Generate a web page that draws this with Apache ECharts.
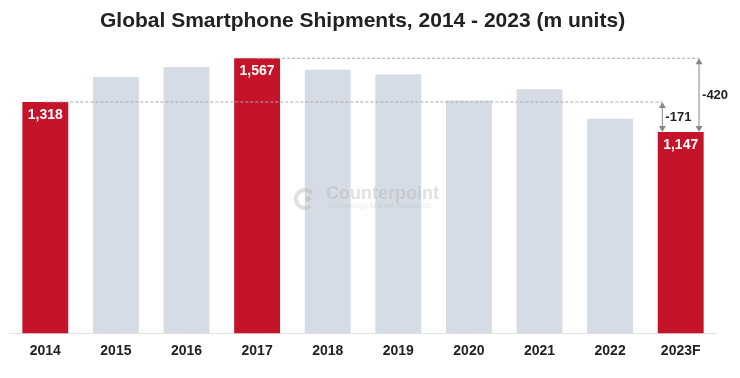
<!DOCTYPE html>
<html><head><meta charset="utf-8">
<script src="https://cdn.jsdelivr.net/npm/echarts@6/dist/echarts.min.js"></script>
<style>html,body{margin:0;padding:0;background:#fff}#c{width:740px;height:378px}</style>
</head><body><div id="c"></div>
<script>
const categories = ['2014','2015','2016','2017','2018','2019','2020','2021','2022','2023F'];
const shipments = [1318, 1460, 1517, 1567, 1502, 1476, 1327, 1390, 1223, 1147];
const highlighted = ['2014','2017','2023F'];
const annotations = [
  {from: '2014', ref: 1318, label: '-171', side: -1},
  {from: '2017', ref: 1567, label: '-420', side: 1}
];
const target = {cat: '2023F', value: 1147};

const RED = '#c5132a', GREY = '#d6dce5';
const FONT = "'Liberation Sans', Arial, sans-serif";
const chart = echarts.init(document.getElementById('c'));
chart.setOption({
  animation: false,
  title: {text: 'Global Smartphone Shipments, 2014 - 2023 (m units)', left: 95, top: 6,
    textStyle: {fontFamily: FONT, fontSize: 21, fontWeight: 'bold', color: '#222'}},
  grid: {left: 10, right: 24, top: 17.4, bottom: 44.8},
  xAxis: {type: 'category', data: categories,
    axisLine: {lineStyle: {color: '#e2e2e2'}}, axisTick: {show: false},
    axisLabel: {margin: 11, fontFamily: FONT, fontSize: 14, fontWeight: 'bold', color: '#222'}},
  yAxis: {type: 'value', min: 0, max: 1800, show: false, splitLine: {show: false}},
  series: [{
    type: 'bar', barCategoryGap: '35%',
    data: shipments.map((v, i) => {
      const hi = highlighted.includes(categories[i]);
      return {value: v, itemStyle: {color: hi ? RED : GREY},
        label: {show: hi}};
    }),
    label: {position: 'insideTop', distance: 6, color: '#fff', fontFamily: FONT, fontSize: 14, fontWeight: 'bold',
      formatter: p => p.value.toLocaleString('en-US')}
  }],
  graphic: []
});

// annotation graphics derived from chart scales
const conv = (c, v) => chart.convertToPixel({xAxisIndex: 0, yAxisIndex: 0}, [c, v]);
const els = [];
const tgt = conv(target.cat, target.value);
const bw = chart.convertToPixel({xAxisIndex: 0}, categories[1]) - chart.convertToPixel({xAxisIndex: 0}, categories[0]);
// logo watermark (on top of bars, semi-transparent)
const midX = (chart.convertToPixel({xAxisIndex:0}, categories[4]) + chart.convertToPixel({xAxisIndex:0}, categories[5]))/2;
const WM = 'rgba(178,178,178,0.4)';
els.push({type: 'arc', shape: {cx: midX - 58, cy: 199, r: 9, startAngle: 0.9, endAngle: 5.6}, style: {fill: 'none', stroke: WM, lineWidth: 4}, z: 20});
els.push({type: 'circle', shape: {cx: midX - 55, cy: 199, r: 3}, style: {fill: WM}, z: 20});
els.push({type: 'text', x: midX - 37, y: 185, style: {text: 'Counterpoint', font: "bold 18px " + FONT, fill: WM}, z: 20});
els.push({type: 'text', x: midX - 36, y: 202, style: {text: 'Technology Market Research', font: "8px " + FONT, fill: 'rgba(178,178,178,0.3)'}, z: 20});
annotations.forEach(a => {
  const start = conv(a.from, a.ref);
  const ax = tgt[0] + a.side * 0.26 * bw;
  els.push({type: 'line', shape: {x1: start[0], y1: start[1], x2: ax, y2: start[1]},
    style: {stroke: '#aaa', lineWidth: 1, lineDash: [3, 2]}, z: 10});
  els.push({type: 'line', shape: {x1: ax, y1: start[1] + 2, x2: ax, y2: tgt[1] - 2},
    style: {stroke: '#888', lineWidth: 1}, z: 10});
  els.push({type: 'polygon', shape: {points: [[ax - 3.5, start[1] + 6], [ax + 3.5, start[1] + 6], [ax, start[1]]]},
    style: {fill: '#888'}, z: 10});
  els.push({type: 'polygon', shape: {points: [[ax - 3.5, tgt[1] - 6], [ax + 3.5, tgt[1] - 6], [ax, tgt[1]]]},
    style: {fill: '#888'}, z: 10});
  els.push({type: 'text', x: ax + 3, y: (start[1] + tgt[1]) / 2,
    style: {text: a.label, font: "bold 13px " + FONT, fill: '#222', textVerticalAlign: 'middle', verticalAlign: 'middle'}, z: 10});
});
chart.setOption({graphic: els});
</script></body></html>
